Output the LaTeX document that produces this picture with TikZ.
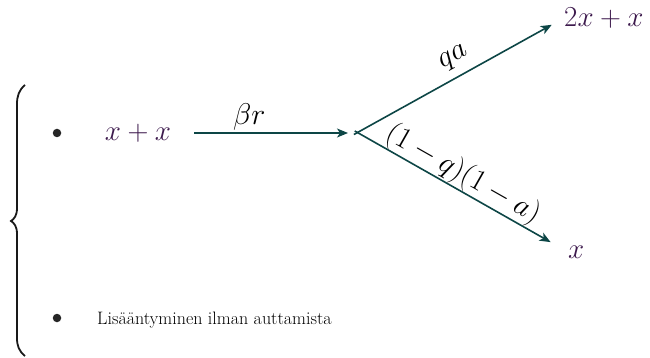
\documentclass[tikz,border=0pt]{standalone}
\usepackage{fix-cm}
\usepackage{fontspec}
\usetikzlibrary{arrows.meta}
\definecolor{mathpurple}{HTML}{3D1A4D}
\definecolor{arrowteal}{HTML}{0D4646}
\tikzset{
  mathnode/.style={inner sep=0pt, text=mathpurple, font=\fontsize{29}{34}\selectfont},
  lbl/.style={inner sep=2pt, text=black, font=\fontsize{30}{36}\selectfont},
  flow/.style={draw=arrowteal, line width=1.6pt, -{Stealth[length=11pt,width=9pt,inset=3pt]}},
  brace/.style={draw=black!90, line width=1.8pt},
  dot/.style={circle, fill=black!85, inner sep=0pt, minimum size=8.5pt},
  listtext/.style={inner sep=0pt, anchor=base west, font=\fontsize{18}{22}\selectfont}
}
\begin{document}
\begin{tikzpicture}[x=1pt,y=-1pt]
\useasboundingbox (0,0) rectangle (650,358);
% brace
\draw[brace] (25,85) .. controls (19,90) and (17,96) .. (17,104) -- (17,208)
  .. controls (17,216) and (14,219) .. (11,221)
  .. controls (14,223) and (17,226) .. (17,234) -- (17,338)
  .. controls (17,346) and (19,351) .. (25,356);
% bullets
\node[dot] (b1) at (57,133) {};
\node[dot] (b2) at (57,318) {};
% nodes
\node[mathnode] (xx) at (138,133) {$x+x$};
\node[mathnode, anchor=west] (top) at (564,18) {$2x+x$};
\node[mathnode, anchor=west] (bot) at (568,252) {$x$};
\coordinate (sp) at (353,133);
\node[listtext] (txt) at (97,324) {Lisääntyminen ilman auttamista};
% arrows
\draw[flow, shorten <=23pt, shorten >=5pt] (xx.east) -- node[lbl, above, pos=0.43] {$\beta r$} (sp);
\draw[flow, shorten <=1pt, shorten >=14pt] ([yshift=-2pt]sp) -- node[lbl, above, sloped, pos=0.52, inner sep=8pt] {$qa$} (top.west);
\draw[flow, shorten <=2pt, shorten >=20pt] ([yshift=3pt]sp) -- node[lbl, above, sloped, pos=0.475, inner sep=0pt] {$(1-q)(1-a)$} (bot.west);
\end{tikzpicture}
\end{document}
